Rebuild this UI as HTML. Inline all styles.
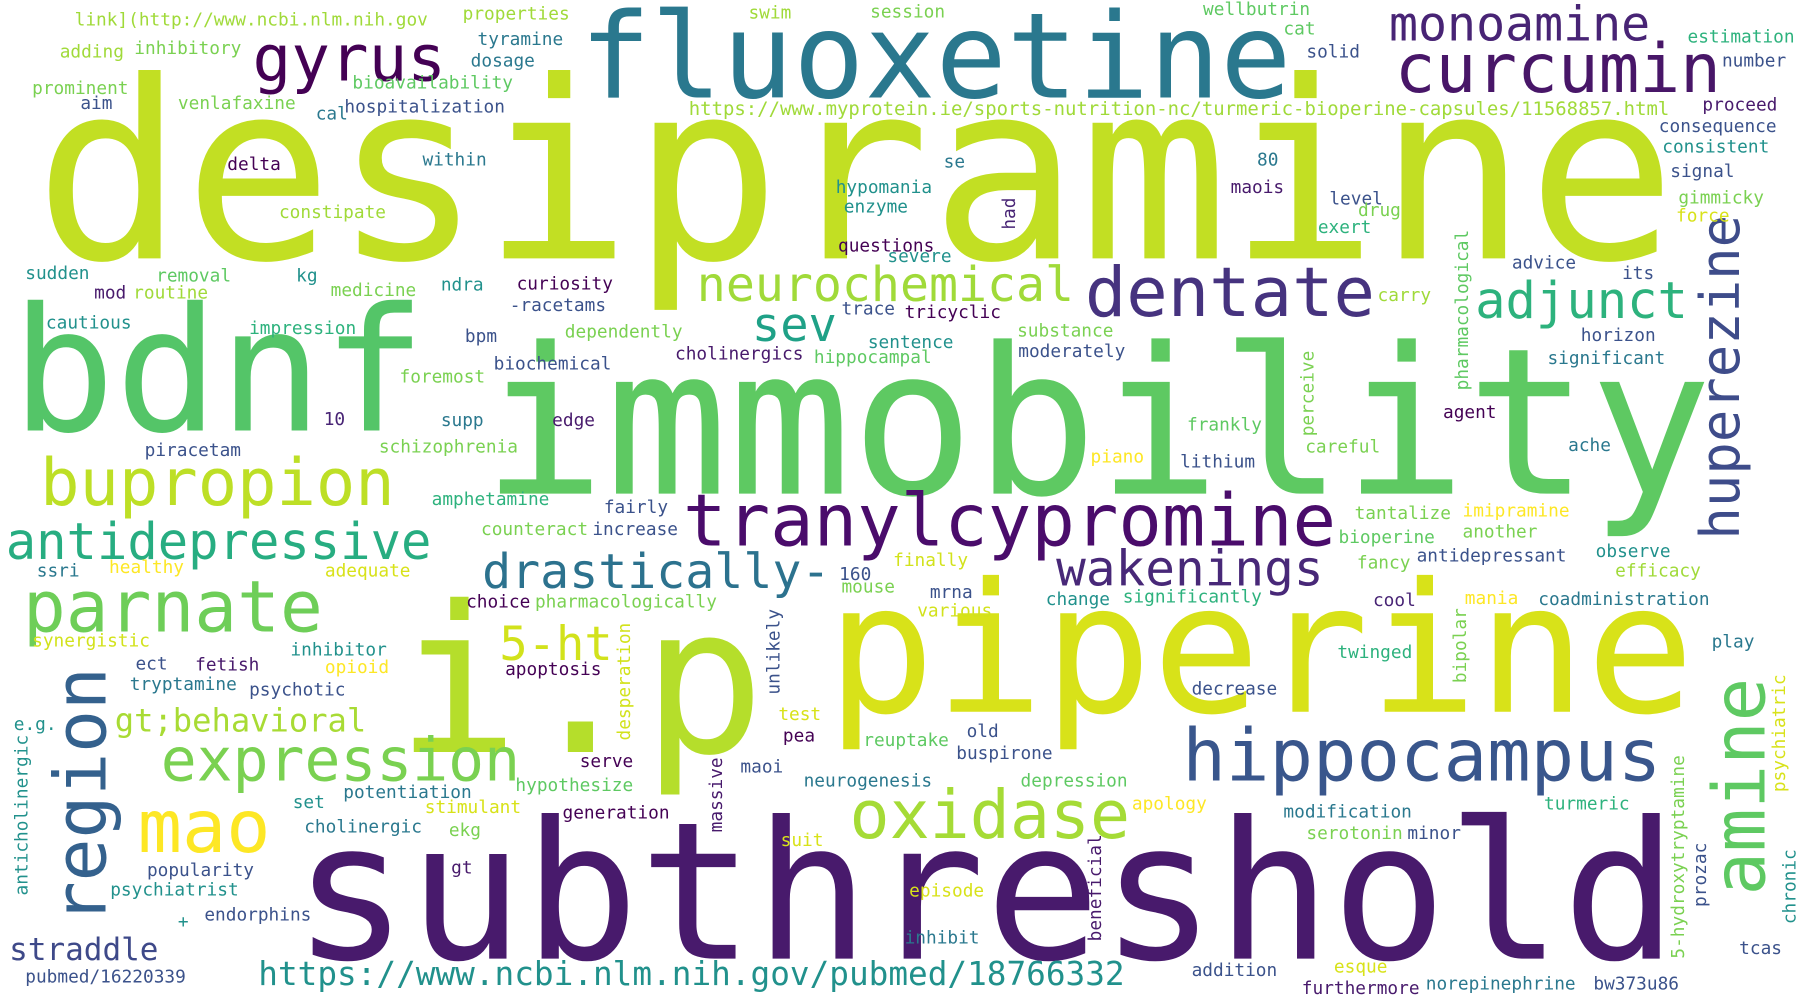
<!DOCTYPE html>
<html><head><meta charset="utf-8"><style>
html,body{margin:0;padding:0;background:#fff;width:1800px;height:1000px;overflow:hidden}
svg{display:block}
text{font-family:"DejaVu Sans Mono","Liberation Mono",monospace}
</style></head><body>
<svg id="cloud" width="1800" height="1000" viewBox="0 0 1568 871" xmlns="http://www.w3.org/2000/svg"></svg>
<script>
// word, x, baseline y, font size, color, vertical(1)
const words=["desipramine","fluoxetine","immobility","bdnf","i.p","piperine","subthreshold","tranylcypromine","hippocampus","oxidase","expression","parnate","bupropion","antidepressive","drastically-","wakenings","neurochemical","dentate","adjunct","sev","curcumin","monoamine","gyrus","https://www.ncbi.nlm.nih.gov/pubmed/18766332","https://www.myprotein.ie/sports-nutrition-nc/turmeric-bioperine-capsules/11568857.html","huperezine","amine","region","mao","5-ht","gt;behavioral","straddle",
"link](http://www.ncbi.nlm.nih.gov","properties","swim","session","wellbutrin","cat","estimation","number","solid","adding","inhibitory","tyramine","dosage","prominent","bioavailability","aim","venlafaxine","cal","hospitalization","proceed","consequence","consistent","signal","gimmicky","force","delta","within","se","80","hypomania","enzyme","had","maois","level","drug","exert","constipate","questions","severe","sudden","removal","kg","advice","its","pharmacological","mod","routine","medicine","ndra","curiosity","-racetams","carry","trace","tricyclic","cautious","impression","bpm","dependently","substance","sentence","horizon","cholinergics","hippocampal","moderately","significant","perceive","biochemical","foremost","10","supp","edge","agent","frankly","piracetam","schizophrenia","piano","lithium","careful","ache","amphetamine","fairly","tantalize","imipramine","counteract","increase","another","bioperine","observe","ssri","healthy","adequate","160","finally","antidepressant","fancy","efficacy","mouse","mrna","choice","pharmacologically","change","significantly","cool","mania","coadministration","various","synergistic","play","unlikely","desperation","inhibitor","twinged","bipolar","ect","fetish","opioid","apoptosis","tryptamine","psychotic","decrease","psychiatric","e.g.","anticholinergic","test","pea","reuptake","old","buspirone","serve","maoi","massive","hypothesize","neurogenesis","depression","set","potentiation","stimulant","generation","apology","modification","turmeric","cholinergic","ekg","suit","serotonin","minor","5-hydroxytryptamine","prozac","chronic","beneficial","popularity","psychiatrist","gt","episode","+","endorphins","inhibit","tcas","esque","addition","pubmed/16220339","furthermore","norepinephrine","bw373u86"];
const xs=[30,505,420,10,345,720,255,595,1030,740,140,20,35,5,420,920,607,945,1285,655,1215,1210,220,225,600,1515,1537,92,120,435,100,8,
65,403,652,758,1048,1118,1470,1500,1138,52,117,416,410,28,307,70,155,275,300,1483,1445,1448,1455,1462,1460,198,368,822,1095,728,735,884,1072,1158,1183,1148,243,730,773,22,136,258,1317,1413,1279,82,116,288,384,450,444,1200,733,788,40,217,405,492,886,756,1377,588,709,887,1348,1144,430,348,282,384,481,1257,1034,126,330,950,1028,1137,1366,376,526,1180,1274,419,516,1274,1166,1390,32,95,283,731,778,1234,1182,1407,733,810,406,466,911,978,1196,1276,1340,799,28,1491,679,549,253,1165,1277,118,170,283,440,113,217,1038,1555,12,24,678,682,752,842,833,505,645,629,449,700,889,255,299,370,490,986,1118,1345,265,391,680,1138,1226,1467,1486,1564,959,128,96,393,792,155,178,788,1515,1162,1038,22,1134,1242,1388];
const ys=[225,85,430,375,655,620,835,475,680,730,680,550,440,487,512,510,262,275,277,297,80,35,70,858,100,470,780,805,742,575,637,836,
22,17,16,15,13,30,37,58,50,50,47,39,58,82,77,95,95,104,98,96,115,133,154,177,193,148,144,146,144,168,185,200,168,178,188,203,190,219,228,243,245,245,234,243,340,260,260,258,253,252,271,262,274,277,286,291,298,294,293,303,297,313,316,311,317,380,322,333,370,371,371,364,375,397,394,403,407,394,393,440,447,452,450,466,466,468,473,485,502,499,502,505,493,489,495,502,516,521,529,529,527,525,528,526,527,537,563,564,605,645,571,573,595,583,584,586,588,601,606,605,690,636,780,627,646,650,642,661,668,673,725,689,685,685,704,695,708,713,705,712,705,725,728,737,731,731,835,790,805,820,763,780,761,781,808,802,822,831,847,850,856,866,862,862];
const sizes=[216,103,178,150,178,157,167,63,63,58,52,62,57,44,42,43,42,60,44,41,59,42,56,28.5,16.5,47,63,62,64,41,28,27];
const colors=["#c2df23","#2a788e","#5ec962","#54c568","#b5de2b","#d8e219","#481a6c","#4a0c6b","#39568c","#a5db36","#7ad151","#6ece58","#bddf26","#27ad81","#2c728e","#482878","#a0da39","#46337f","#2db27d","#1fa187","#481668","#482475","#440154","#21918c","#a0da39","#3e4c8a","#5ec962","#34618d","#fde725","#d2e21b","#a8db34","#3e4989",
"#a0da39","#a0da39","#a0da39","#7ad151","#5ec962","#5ec962","#2db27d","#3b528b","#3b528b","#a0da39","#7ad151","#2a788e","#2a788e","#7ad151","#5ec962","#3b528b","#7ad151","#2a788e","#3b528b","#481a6c","#3b528b","#21918c","#3b528b","#7ad151","#d8e219","#440154","#2a788e","#2a788e","#2a788e","#21918c","#21918c","#482475","#481a6c","#3b528b","#7ad151","#2db27d","#a0da39","#440154","#21918c","#21918c","#5ec962","#21918c","#3b528b","#3b528b","#5ec962","#481a6c","#a0da39","#7ad151","#21918c","#440154","#3b528b","#a0da39","#3b528b","#440154","#21918c","#2db27d","#3b528b","#7ad151","#7ad151","#21918c","#3b528b","#481a6c","#5ec962","#3b528b","#2a788e","#7ad151","#3b528b","#7ad151","#482475","#2a788e","#481a6c","#440154","#5ec962","#3b528b","#7ad151","#fde725","#3b528b","#7ad151","#2a788e","#2db27d","#3b528b","#7ad151","#fde725","#7ad151","#3b528b","#7ad151","#5ec962","#21918c","#2a788e","#fde725","#d8e219","#3b528b","#d2e21b","#3b528b","#7ad151","#a0da39","#7ad151","#3b528b","#440154","#7ad151","#21918c","#2db27d","#482475","#fde725","#2a788e","#d2e21b","#d2e21b","#2a788e","#3b528b","#d2e21b","#21918c","#2db27d","#7ad151","#3b528b","#481a6c","#fde725","#440154","#2a788e","#3b528b","#3b528b","#d8e219","#21918c","#21918c","#d8e219","#440154","#5ec962","#3b528b","#3b528b","#440154","#3b528b","#481a6c","#5ec962","#2a788e","#5ec962","#21918c","#2a788e","#d8e219","#440154","#fde725","#2a788e","#2db27d","#2a788e","#7ad151","#d8e219","#7ad151","#3b528b","#7ad151","#3b528b","#21918c","#481a6c","#3b528b","#21918c","#481a6c","#d8e219","#21918c","#3b528b","#2a788e","#3b528b","#d8e219","#3b528b","#3b528b","#481a6c","#2a788e","#3b528b"];
const vertical=["huperezine","amine","region","had","pharmacological","perceive","unlikely","desperation","bipolar","psychiatric","anticholinergic","massive","5-hydroxytryptamine","prozac","chronic","beneficial"];
const svg=document.getElementById('cloud');
const NS='http://www.w3.org/2000/svg';
words.forEach((w,i)=>{
  const t=document.createElementNS(NS,'text');
  const fs=i<sizes.length?sizes[i]:15.5;
  t.setAttribute('x',xs[i]);
  t.setAttribute('y',ys[i]);
  t.setAttribute('font-size',fs);
  t.setAttribute('fill',colors[i]);
  if(vertical.includes(w)) t.setAttribute('transform','rotate(-90 '+xs[i]+' '+ys[i]+')');
  t.textContent=w;
  
  
  svg.appendChild(t);
});
</script>
</body></html>
